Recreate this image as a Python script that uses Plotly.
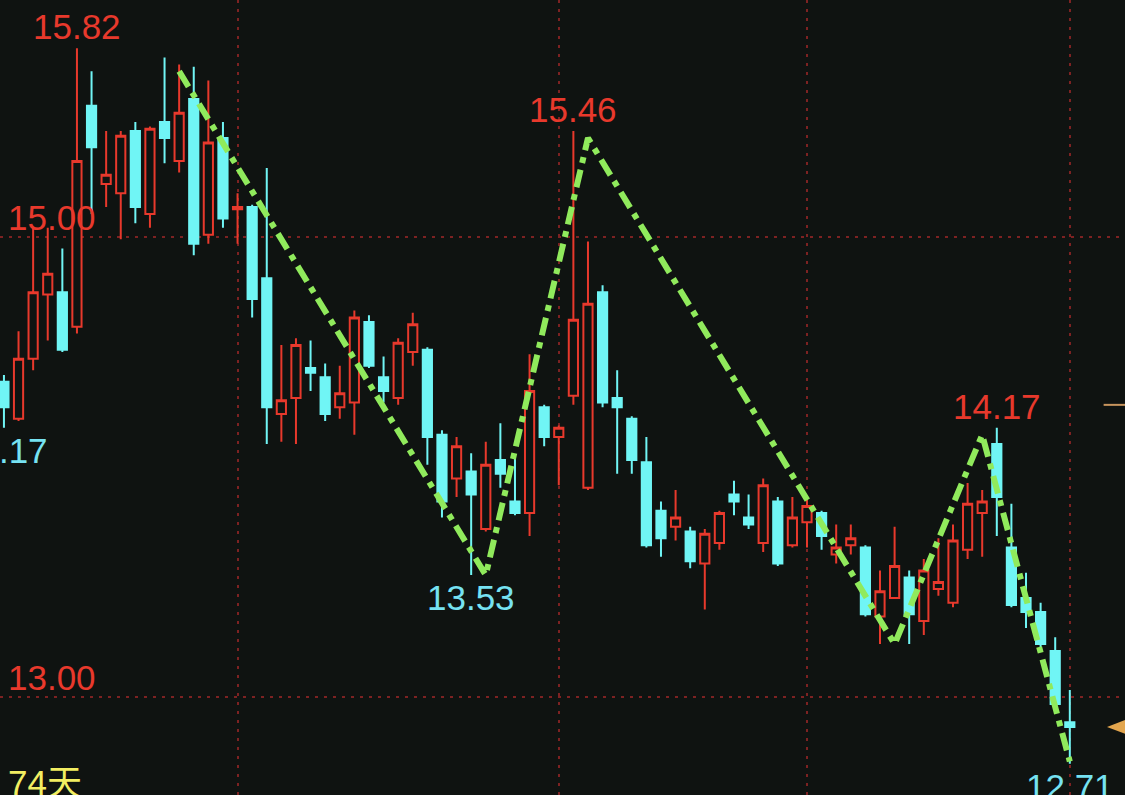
import plotly.graph_objects as go

# 74 日 K 线（红=涨 空心，青=跌 实心）
days = list(range(74))
opens = [14.37, 14.21, 14.47, 14.75, 14.76, 14.61, 15.57, 15.23, 15.19, 15.46,
         15.10, 15.50, 15.33, 15.60, 15.01, 15.43, 15.12, 15.13, 14.82, 14.23,
         14.30, 14.43, 14.39, 14.26, 14.28, 14.63, 14.39, 14.30, 14.50, 14.51,
         14.14, 13.95, 13.98, 13.73, 14.03, 13.85, 13.80, 14.26, 14.13, 14.31,
         13.91, 14.76, 14.30, 14.21, 14.02, 13.81, 13.74, 13.72, 13.58, 13.67,
         13.88, 13.78, 13.67, 13.85, 13.66, 13.76, 13.80, 13.62, 13.66, 13.65,
         13.35, 13.43, 13.52, 13.33, 13.47, 13.41, 13.64, 13.80, 14.10, 13.65,
         13.43, 13.37, 13.20, 12.89]
highs = [14.40, 14.59, 15.04, 15.04, 14.95, 15.82, 15.72, 15.46, 15.46, 15.50,
         15.48, 15.78, 15.75, 15.74, 15.68, 15.50, 15.19, 15.14, 15.30, 14.53,
         14.56, 14.55, 14.45, 14.44, 14.68, 14.66, 14.48, 14.56, 14.67, 14.52,
         14.16, 14.13, 14.06, 14.11, 14.19, 14.05, 14.49, 14.27, 14.18, 15.46,
         14.98, 14.79, 14.42, 14.22, 14.13, 13.85, 13.90, 13.74, 13.73, 13.81,
         13.94, 13.88, 13.95, 13.87, 13.87, 13.86, 13.81, 13.75, 13.75, 13.66,
         13.55, 13.74, 13.55, 13.60, 13.69, 13.75, 13.93, 13.90, 14.17, 13.84,
         13.54, 13.41, 13.26, 13.03]
lows = [14.17, 14.20, 14.42, 14.55, 14.50, 14.58, 15.10, 15.13, 14.99, 15.06,
        15.04, 15.32, 15.28, 14.92, 14.97, 15.04, 14.97, 14.65, 14.10, 14.11,
        14.10, 14.33, 14.20, 14.21, 14.14, 14.43, 14.28, 14.27, 14.44, 14.01,
        13.78, 13.87, 13.53, 13.72, 13.91, 13.79, 13.70, 14.09, 13.92, 14.27,
        13.90, 14.26, 13.97, 13.97, 13.65, 13.61, 13.68, 13.56, 13.38, 13.64,
        13.79, 13.73, 13.63, 13.57, 13.65, 13.65, 13.64, 13.58, 13.62, 13.35,
        13.23, 13.43, 13.23, 13.27, 13.44, 13.39, 13.60, 13.61, 13.70, 13.39,
        13.30, 13.21, 12.96, 12.71]
closes = [14.26, 14.47, 14.76, 14.84, 14.51, 15.33, 15.39, 15.27, 15.44, 15.13,
          15.47, 15.43, 15.54, 14.97, 15.41, 15.08, 15.13, 14.73, 14.26, 14.29,
          14.53, 14.41, 14.23, 14.32, 14.65, 14.44, 14.33, 14.54, 14.62, 14.13,
          13.85, 14.09, 13.88, 14.01, 13.97, 13.80, 14.33, 14.13, 14.17, 14.64,
          14.71, 14.28, 14.26, 14.03, 13.66, 13.69, 13.78, 13.59, 13.71, 13.80,
          13.85, 13.75, 13.92, 13.58, 13.78, 13.83, 13.70, 13.65, 13.69, 13.36,
          13.46, 13.57, 13.36, 13.55, 13.50, 13.68, 13.84, 13.85, 13.87, 13.40,
          13.37, 13.23, 12.97, 12.87]

# 波浪折线顶点
zz_days = [12, 33, 40, 61, 67, 73]
zz_prices = [15.72, 13.53, 15.43, 13.23, 14.14, 12.72]

# 高低点标注
peak_days = [5, 39, 68]
trough_days = [0, 32, 73]

price_ticks = [13.00, 15.00]
month_days = [16, 38, 55, 73]
cost_level = 14.27
day_count = "74天"

BG = "#0f1311"
RED = "#e8392c"
CYAN = "#70f5f5"
CYAN_TXT = "#76e2f2"
GREEN = "#90ea5c"
GRID = "#7d2222"
ORANGE = "#e3a64e"
FONT = "Liberation Sans, Arial, Noto Sans CJK SC, sans-serif"

fig = go.Figure()
fig.add_trace(go.Candlestick(
    x=days, open=opens, high=highs, low=lows, close=closes,
    increasing=dict(line=dict(color=RED, width=2), fillcolor=BG),
    decreasing=dict(line=dict(color=CYAN, width=2), fillcolor=CYAN),
    whiskerwidth=0,
    showlegend=False,
    hoverinfo="skip",
))
fig.add_trace(go.Scatter(
    x=zz_days, y=zz_prices, mode="lines",
    line=dict(color=GREEN, width=6, dash="18px,7px,6px,7px"),
    showlegend=False, hoverinfo="skip",
))

for d in peak_days:
    fig.add_annotation(x=d, y=highs[d], text=f"{highs[d]:.2f}", showarrow=False,
                       xanchor="center", yanchor="bottom", yshift=0,
                       font=dict(size=35, color=RED, family=FONT))
for d in trough_days:
    fig.add_annotation(x=d, y=lows[d], text=f"{lows[d]:.2f}", showarrow=False,
                       xanchor="center", yanchor="top", yshift=-1,
                       font=dict(size=35, color=CYAN_TXT, family=FONT))

for p in price_ticks:
    fig.add_annotation(xref="paper", x=0, xshift=6, y=p, text=f"{p:.2f}",
                       showarrow=False, xanchor="left", yanchor="bottom", yshift=-2,
                       font=dict(size=35, color=RED, family=FONT))

fig.add_annotation(xref="paper", yref="paper", x=0, y=0, xshift=6, yshift=34,
                   text=day_count, showarrow=False, xanchor="left", yanchor="top",
                   font=dict(size=35, color="#f2ee62", family=FONT))

# 右侧标记：成本线与最新价三角
fig.add_shape(type="line", xref="paper", x0=0.981, x1=1, y0=cost_level, y1=cost_level,
              line=dict(color="#c8955e", width=2))
last = closes[-1]
fig.add_shape(type="path", xref="paper", yref="y",
              path=f"M 0.984 {last} L 1 {last + 0.03} L 1 {last - 0.03} Z",
              fillcolor=ORANGE, line=dict(width=0))

fig.update_layout(
    width=1125, height=795,
    margin=dict(l=0, r=0, t=0, b=0),
    paper_bgcolor=BG, plot_bgcolor=BG,
    font=dict(family=FONT),
    xaxis=dict(
        range=[-0.27, 76.78],
        tickvals=month_days, showticklabels=False, ticks="",
        showgrid=True, gridcolor=GRID, griddash="3px,6px", gridwidth=2,
        zeroline=False, showline=False,
        rangeslider=dict(visible=False),
    ),
    yaxis=dict(
        range=[12.574, 16.030],
        tickvals=price_ticks, showticklabels=False, ticks="",
        showgrid=True, gridcolor=GRID, griddash="3px,6px", gridwidth=2,
        zeroline=False, showline=False,
    ),
    boxgap=0.1,
)

fig.write_html("out.html", config={"displayModeBar": False},
               post_script="document.body.style.margin='0';")
